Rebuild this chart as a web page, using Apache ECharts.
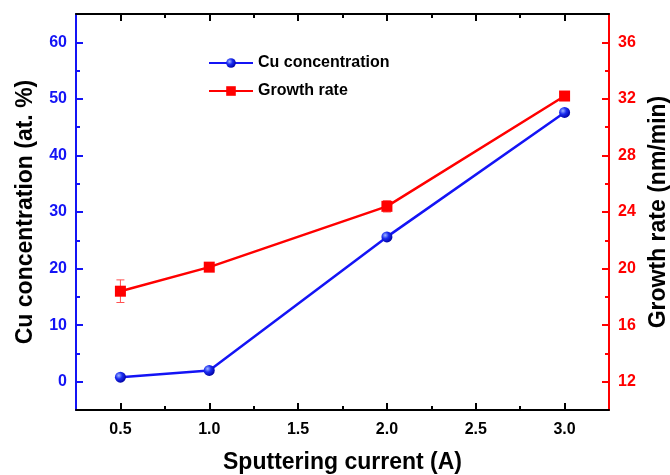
<!DOCTYPE html>
<html>
<head>
<meta charset="utf-8">
<script src="https://cdn.jsdelivr.net/npm/echarts@6/dist/echarts.min.js"></script>
<style>html,body{margin:0;padding:0;background:#fff}#c{width:670px;height:475px}</style>
</head>
<body>
<div id="c"></div>
<script>
// ---- data ----
var current = [0.5, 1.0, 2.0, 3.0];
var cuConc = [0.8, 2.0, 25.6, 47.6];
var growthRate = [18.4, 20.1, 24.4, 32.2];
var growthErr = [0.8, 0.2, 0.4, 0.2];
// ---- ticks ----
var xMajor = [0.5, 1.0, 1.5, 2.0, 2.5, 3.0];
var xMinor = [0.75, 1.25, 1.75, 2.25, 2.75];
var leftMajor = [0, 10, 20, 30, 40, 50, 60];
var leftMinor = [5, 15, 25, 35, 45, 55];
var rightMajor = [12, 16, 20, 24, 28, 32, 36];
var rightMinor = [14, 18, 22, 26, 30, 34];

var BLUE = '#1414f5', RED = '#ff0000', BLACK = '#000';
var FONT = 'Liberation Sans, Arial, sans-serif';

function xAxisDef(pos, ticks, len, opts) {
  return Object.assign({
    type: 'value', position: pos, min: 0.25, max: 3.25,
    axisLine: { show: false, onZero: false, lineStyle: { color: BLACK, width: 2 } },
    axisTick: { show: true, inside: true, length: len, customValues: ticks, lineStyle: { color: BLACK, width: 2 } },
    axisLabel: { show: false },
    splitLine: { show: false }
  }, opts || {});
}
function yAxisDef(pos, min, max, ticks, len, color, opts) {
  return Object.assign({
    type: 'value', position: pos, min: min, max: max,
    axisLine: { show: false, onZero: false, lineStyle: { color: color, width: 2 } },
    axisTick: { show: true, inside: true, length: len, customValues: ticks, lineStyle: { color: color, width: 2 } },
    axisLabel: { show: false },
    splitLine: { show: false }
  }, opts || {});
}

var chart = echarts.init(document.getElementById('c'), null, { renderer: 'canvas' });

var option = {
  backgroundColor: '#fff',
  animation: false,
  textStyle: { fontFamily: FONT },
  grid: { left: 76, right: 61, top: 14, bottom: 65, containLabel: false, outerBoundsMode: 'none' },
  legend: {
    data: ['Cu concentration', 'Growth rate'],
    orient: 'vertical', left: 203, top: 50,
    itemWidth: 44, itemHeight: 12, itemGap: 12,
    textStyle: { fontFamily: FONT, fontWeight: 'bold', fontSize: 16, color: BLACK }
  },
  xAxis: [
    xAxisDef('bottom', xMajor, 7, {
      axisLine: { show: true, onZero: false, lineStyle: { color: BLACK, width: 2 } },
      axisLabel: { show: true, customValues: xMajor, margin: 12, color: BLACK, fontWeight: 'bold', fontSize: 16, fontFamily: FONT,
        formatter: function (v) { return v.toFixed(1); } },
      name: 'Sputtering current (A)', nameLocation: 'middle', nameGap: 41,
      nameTextStyle: { fontFamily: FONT, fontWeight: 'bold', fontSize: 23, color: BLACK }
    }),
    xAxisDef('bottom', xMinor, 4),
    xAxisDef('top', xMajor, 7, { axisLine: { show: true, onZero: false, lineStyle: { color: BLACK, width: 2 } } }),
    xAxisDef('top', xMinor, 4)
  ],
  yAxis: [
    yAxisDef('left', -5, 65, leftMajor, 7, BLUE, {
      axisLine: { show: true, onZero: false, lineStyle: { color: BLUE, width: 2 } },
      axisLabel: { show: true, customValues: leftMajor, margin: 9, color: BLUE, fontWeight: 'bold', fontSize: 16, fontFamily: FONT },
      name: 'Cu concentration (at. %)', nameLocation: 'middle', nameGap: 39, nameRotate: 90,
      nameTextStyle: { fontFamily: FONT, fontWeight: 'bold', fontSize: 23, color: BLACK }
    }),
    yAxisDef('left', -5, 65, leftMinor, 4, BLUE),
    yAxisDef('right', 10, 38, rightMajor, 7, RED, {
      axisLine: { show: true, onZero: false, lineStyle: { color: RED, width: 2 } },
      axisLabel: { show: true, customValues: rightMajor, margin: 9, color: RED, fontWeight: 'bold', fontSize: 16, fontFamily: FONT },
      name: 'Growth rate (nm/min)', nameLocation: 'middle', nameGap: 33, nameRotate: 90,
      nameTextStyle: { fontFamily: FONT, fontWeight: 'bold', fontSize: 23, color: BLACK }
    }),
    yAxisDef('right', 10, 38, rightMinor, 4, RED)
  ],
  series: [
    {
      name: 'Cu concentration', type: 'line', xAxisIndex: 0, yAxisIndex: 0,
      data: current.map(function (x, i) { return [x, cuConc[i]]; }),
      symbol: 'circle', symbolSize: 11,
      lineStyle: { color: BLUE, width: 2.5 },
      itemStyle: {
        color: new echarts.graphic.RadialGradient(0.35, 0.35, 0.7, [
          { offset: 0, color: '#9fb6ff' }, { offset: 0.45, color: '#1a2cf0' }, { offset: 1, color: '#0000a0' }
        ]),
        borderWidth: 0
      },
      z: 3
    },
    {
      name: 'Growth rate', type: 'line', xAxisIndex: 0, yAxisIndex: 2,
      data: current.map(function (x, i) { return [x, growthRate[i]]; }),
      symbol: 'rect', symbolSize: 11,
      lineStyle: { color: RED, width: 2.5 },
      itemStyle: { color: RED, borderWidth: 0 },
      z: 4
    },
    {
      name: 'errors', type: 'custom', xAxisIndex: 0, yAxisIndex: 2,
      data: current.map(function (x, i) { return [x, growthRate[i] - growthErr[i], growthRate[i] + growthErr[i]]; }),
      renderItem: function (params, api) {
        var lo = api.coord([api.value(0), api.value(1)]);
        var hi = api.coord([api.value(0), api.value(2)]);
        var hw = 4;
        var st = { stroke: '#ff5050', lineWidth: 1 };
        return {
          type: 'group',
          children: [
            { type: 'line', shape: { x1: lo[0], y1: lo[1], x2: hi[0], y2: hi[1] }, style: st },
            { type: 'line', shape: { x1: lo[0] - hw, y1: lo[1], x2: lo[0] + hw, y2: lo[1] }, style: st },
            { type: 'line', shape: { x1: hi[0] - hw, y1: hi[1], x2: hi[0] + hw, y2: hi[1] }, style: st }
          ]
        };
      },
      encode: { x: 0, y: [1, 2] },
      z: 2
    }
  ]
};
chart.setOption(option);
</script>
</body>
</html>
